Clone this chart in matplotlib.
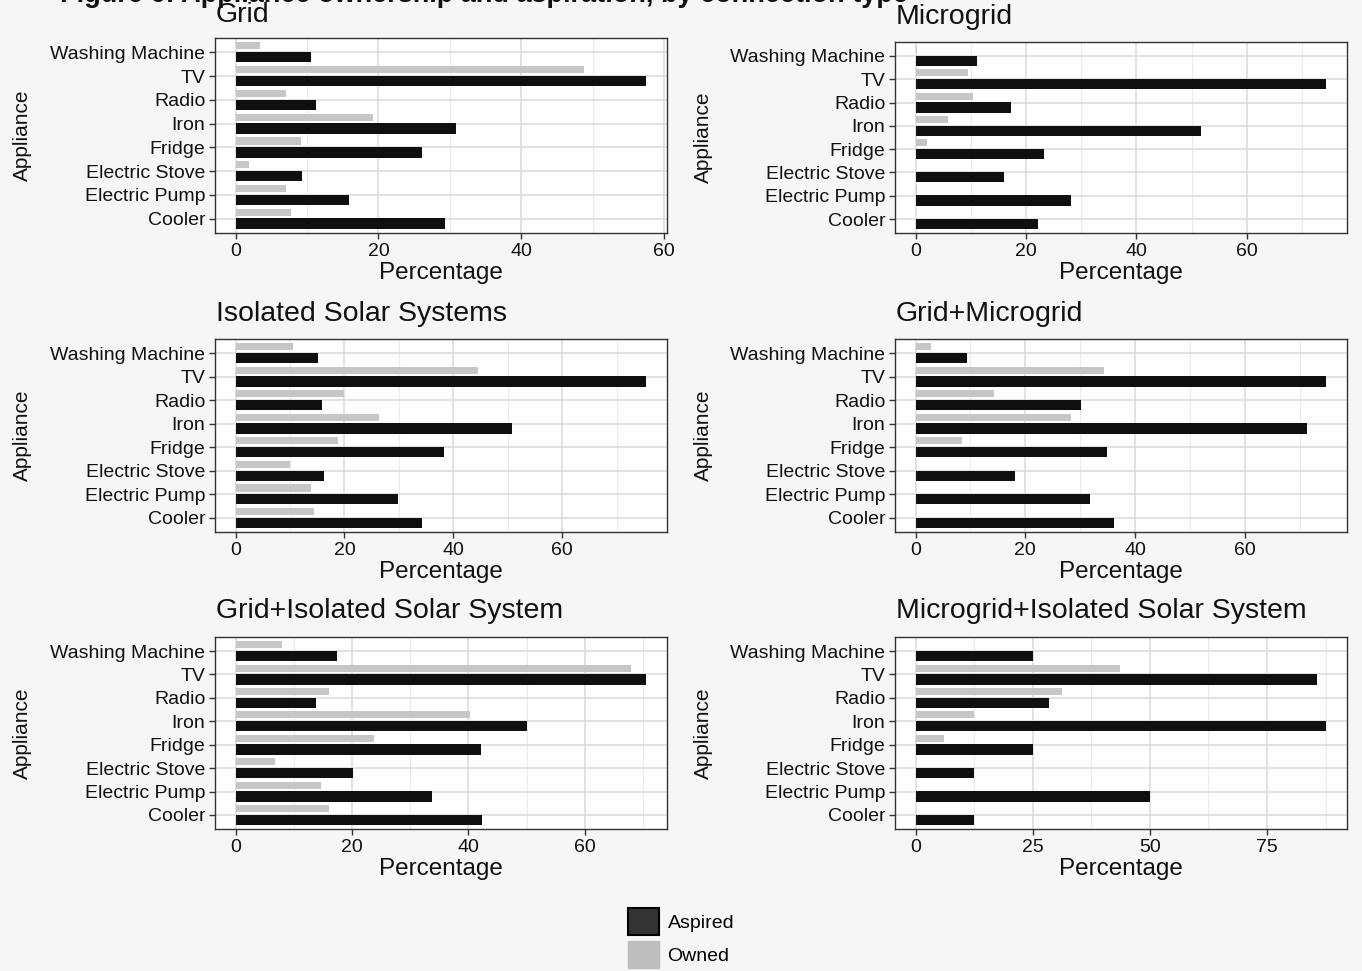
import matplotlib
matplotlib.use("Agg")
import matplotlib.pyplot as plt
from matplotlib.patches import Patch
from matplotlib.ticker import MultipleLocator

plt.rcParams['font.family'] = ['Liberation Sans', 'DejaVu Sans']

# appliances listed bottom to top, as drawn on the y axis
appliances = ['Cooler', 'Electric Pump', 'Electric Stove', 'Fridge',
              'Iron', 'Radio', 'TV', 'Washing Machine']

grid_owned = [7.7, 7.1, 1.9, 9.1, 19.2, 7.1, 48.8, 3.4]
grid_aspired = [29.3, 15.9, 9.3, 26.1, 30.9, 11.2, 57.5, 10.5]

micro_owned = [0, 0.3, 0, 2.0, 5.9, 10.4, 9.5, 0.3]
micro_aspired = [22.2, 28.2, 16.1, 23.3, 51.7, 17.3, 74.4, 11.2]

iss_owned = [14.5, 13.8, 10.0, 18.8, 26.4, 19.9, 44.5, 10.5]
iss_aspired = [34.2, 29.8, 16.3, 38.3, 50.8, 15.8, 75.5, 15.1]

gm_owned = [0, 0, 0, 8.5, 28.3, 14.3, 34.3, 2.8]
gm_aspired = [36.2, 31.8, 18.2, 34.9, 71.3, 30.1, 74.9, 9.4]

giss_owned = [16.0, 14.6, 6.8, 23.8, 40.2, 16.0, 67.9, 8.0]
giss_aspired = [42.3, 33.8, 20.1, 42.1, 50.1, 13.9, 70.6, 17.5]

miss_owned = [0, 0, 0, 6.1, 12.4, 31.3, 43.7, 0]
miss_aspired = [12.5, 50.0, 12.5, 25.0, 87.7, 28.4, 85.7, 25.0]

titles = ['Grid', 'Microgrid', 'Isolated Solar Systems', 'Grid+Microgrid',
          'Grid+Isolated Solar System', 'Microgrid+Isolated Solar System']
owned = [grid_owned, micro_owned, iss_owned, gm_owned, giss_owned, miss_owned]
aspired = [grid_aspired, micro_aspired, iss_aspired, gm_aspired, giss_aspired, miss_aspired]
steps = [20, 20, 20, 20, 20, 25]

W, H = 1362, 971
fig = plt.figure(figsize=(W / 100, H / 100), dpi=100, facecolor='#f6f6f6')

# panel boxes in pixels: left, top, bottom
cols = [215, 895]
panel_w = 452
rows = [(38, 233), (339, 532), (637, 829)]
title_y = [15, 314, 611]

ASP = '#0f0f0f'
OWN = '#c6c6c6'
TXT = '#111111'

for i in range(6):
    r, c = divmod(i, 2)
    left = cols[c]
    top, bot = rows[r]
    if i == 1:
        top = 42
    ax = fig.add_axes([left / W, 1 - bot / H, panel_w / W, (bot - top) / H])
    ax.set_facecolor('white')

    y = list(range(1, len(appliances) + 1))
    ax.barh([v + 0.27 for v in y], owned[i], height=0.3, color=OWN, zorder=2)
    ax.barh([v - 0.21 for v in y], aspired[i], height=0.44, color=ASP, zorder=3)

    vmax = max(max(owned[i]), max(aspired[i]))
    ax.set_xlim(-0.05 * vmax, 1.05 * vmax)
    ax.set_ylim(0.4, len(appliances) + 0.6)
    ax.set_yticks(y)
    ax.set_yticklabels(appliances)
    ax.xaxis.set_major_locator(MultipleLocator(steps[i]))
    ax.xaxis.set_minor_locator(MultipleLocator(steps[i] / 2))

    ax.set_axisbelow(True)
    ax.grid(which='major', color='#dadada', lw=1.1)
    ax.grid(which='minor', axis='x', color='#ebebeb', lw=0.8)

    ax.tick_params(which='major', direction='out', length=4, width=1,
                   color='#333333', labelsize=14, labelcolor=TXT, pad=3)
    ax.tick_params(which='minor', length=0)
    for s in ax.spines.values():
        s.set_color('#333333')
        s.set_linewidth(1.0)

    fig.text((left + 1) / W, 1 - (title_y[r] + (2 if i == 1 else 0)) / H, titles[i],
             fontsize=20.5, color=TXT, ha='left', va='center')
    fig.text((left + panel_w / 2) / W, 1 - (bot + 40) / H, 'Percentage',
             fontsize=17.5, color=TXT, ha='center', va='center')
    fig.text((22 if c == 0 else 703) / W, 1 - (top + bot) / 2 / H, 'Appliance',
             fontsize=15, color=TXT, rotation=90, ha='center', va='center')

# figure heading, partly above the top edge
fig.text(60 / W, 1 - 2 / H,
         'Figure 6: Appliance ownership and aspiration, by connection type',
         fontsize=19.5, fontweight='bold', color=TXT, ha='left', va='baseline')

handles = [Patch(facecolor='#333333', edgecolor='#000000', lw=1.5, label='Aspired'),
           Patch(facecolor='#bdbdbd', edgecolor='#bdbdbd', label='Owned')]
fig.legend(handles=handles, loc='center left', bbox_to_anchor=(618 / W, 1 - 938 / H),
           frameon=False, fontsize=14, handlelength=1.6, handleheight=1.75,
           labelspacing=0.3, handletextpad=0.45, borderpad=0)

fig.savefig('out.png', dpi=100, facecolor=fig.get_facecolor())
